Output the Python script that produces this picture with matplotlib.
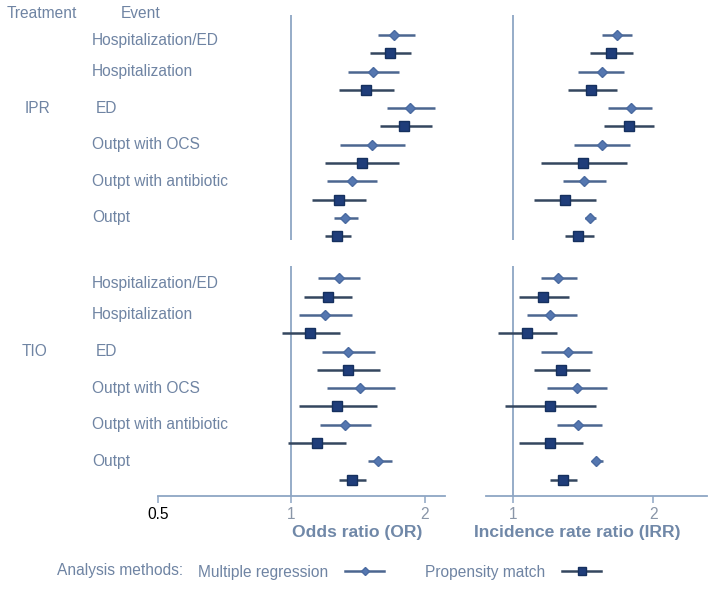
import matplotlib
matplotlib.use("Agg")
import matplotlib.pyplot as plt
import matplotlib.transforms as mtransforms
from matplotlib.lines import Line2D
import numpy as np

plt.rcParams['font.family'] = ['Liberation Sans', 'DejaVu Sans']

# data (point estimate, lower CI, upper CI)
treatments = ["IPR", "TIO"]
events = ["Hospitalization/ED", "Hospitalization", "ED",
          "Outpt with OCS", "Outpt with antibiotic", "Outpt"]

# odds ratio, multiple regression / propensity match
or_mr_ipr = [1.70, 1.53, 1.85, 1.52, 1.37, 1.32]
or_mr_ipr_lo = [1.57, 1.34, 1.64, 1.29, 1.20, 1.25]
or_mr_ipr_hi = [1.90, 1.75, 2.11, 1.80, 1.56, 1.41]
or_pm_ipr = [1.67, 1.47, 1.79, 1.44, 1.28, 1.27]
or_pm_ipr_lo = [1.50, 1.28, 1.58, 1.19, 1.11, 1.19]
or_pm_ipr_hi = [1.86, 1.70, 2.08, 1.75, 1.47, 1.36]

or_mr_tio = [1.28, 1.19, 1.34, 1.43, 1.32, 1.57]
or_mr_tio_lo = [1.15, 1.04, 1.17, 1.20, 1.16, 1.49]
or_mr_tio_hi = [1.43, 1.37, 1.54, 1.71, 1.51, 1.69]
or_pm_tio = [1.21, 1.10, 1.34, 1.27, 1.14, 1.37]
or_pm_tio_lo = [1.07, 0.95, 1.14, 1.04, 0.98, 1.28]
or_pm_tio_hi = [1.37, 1.29, 1.58, 1.56, 1.33, 1.47]

# incidence rate ratio
irr_mr_ipr = [1.67, 1.55, 1.79, 1.55, 1.42, 1.46]
irr_mr_ipr_lo = [1.55, 1.38, 1.60, 1.35, 1.28, 1.43]
irr_mr_ipr_hi = [1.80, 1.73, 1.99, 1.78, 1.58, 1.51]
irr_pm_ipr = [1.62, 1.47, 1.77, 1.41, 1.29, 1.38]
irr_pm_ipr_lo = [1.46, 1.31, 1.57, 1.15, 1.11, 1.29]
irr_pm_ipr_hi = [1.81, 1.67, 2.01, 1.76, 1.51, 1.49]

irr_mr_tio = [1.25, 1.20, 1.31, 1.37, 1.38, 1.51]
irr_mr_tio_lo = [1.15, 1.07, 1.15, 1.18, 1.24, 1.48]
irr_mr_tio_hi = [1.37, 1.37, 1.48, 1.59, 1.55, 1.56]
irr_pm_tio = [1.16, 1.07, 1.27, 1.20, 1.20, 1.28]
irr_pm_tio_lo = [1.03, 0.93, 1.11, 0.96, 1.03, 1.20]
irr_pm_tio_hi = [1.32, 1.24, 1.46, 1.51, 1.41, 1.37]

TXT = '#6f84a3'
AXC = '#8ea6c4'
MR_LINE = '#4c6690'
PM_LINE = '#34465f'
MR_MARK = '#5577b0'
PM_MARK = '#1f3d7a'
FS = 11.2

GROUP_GAP = 13.3
YLIM = (25.19, -1.366)

fig = plt.figure(figsize=(7.16, 5.89), dpi=100)
ax_or = fig.add_axes([0.2207, 0.158, 0.4008, 0.825])
ax_irr = fig.add_axes([0.6788, 0.158, 0.3087, 0.825])


def draw_panel(ax, groups, xlim, ticks, ticklabels):
    ax.set_xscale('log')
    for g, (mr, mr_lo, mr_hi, pm, pm_lo, pm_hi) in enumerate(groups):
        base = g * GROUP_GAP
        y_mr = base + 2 * np.arange(len(mr))
        y_pm = y_mr + 1
        ax.hlines(y_mr, mr_lo, mr_hi, color=MR_LINE, lw=1.8, zorder=2)
        ax.hlines(y_pm, pm_lo, pm_hi, color=PM_LINE, lw=1.8, zorder=2)
        ax.plot(mr, y_mr, 'D', ms=5.5, color=MR_MARK, mec='#4a6aa0', zorder=3)
        ax.plot(pm, y_pm, 's', ms=7.5, color=PM_MARK, mec='#15305e', zorder=3)
    ax.vlines(1, -1.1, 11.2, color=AXC, lw=1.3, zorder=1)
    ax.vlines(1, GROUP_GAP - 0.7, YLIM[0], color=AXC, lw=1.3, zorder=1)
    ax.set_ylim(*YLIM)
    ax.set_xlim(*xlim)
    ax.minorticks_off()
    ax.set_xticks(ticks)
    ax.set_xticklabels(ticklabels)
    ax.set_yticks([])
    for s in ['top', 'left', 'right']:
        ax.spines[s].set_visible(False)
    ax.spines['bottom'].set_color(AXC)
    ax.spines['bottom'].set_linewidth(1.3)
    ax.tick_params(axis='x', direction='out', length=5, width=1.1, color=AXC,
                   labelsize=FS, labelcolor='#8a96a8', pad=3)
    ax.patch.set_visible(False)


draw_panel(ax_or,
           [(or_mr_ipr, or_mr_ipr_lo, or_mr_ipr_hi, or_pm_ipr, or_pm_ipr_lo, or_pm_ipr_hi),
            (or_mr_tio, or_mr_tio_lo, or_mr_tio_hi, or_pm_tio, or_pm_tio_lo, or_pm_tio_hi)],
           (0.5, 2.22), [0.5, 1, 2], ["0.5", "1", "2"])
ax_or.get_xticklabels()[0].set_color('black')

draw_panel(ax_irr,
           [(irr_mr_ipr, irr_mr_ipr_lo, irr_mr_ipr_hi, irr_pm_ipr, irr_pm_ipr_lo, irr_pm_ipr_hi),
            (irr_mr_tio, irr_mr_tio_lo, irr_mr_tio_hi, irr_pm_tio, irr_pm_tio_lo, irr_pm_tio_hi)],
           (0.875, 2.61), [1, 2], ["1", "2"])

# row labels on the left
trans = mtransforms.blended_transform_factory(fig.transFigure, ax_or.transData)
for g, treat in enumerate(treatments):
    base = g * GROUP_GAP
    for i, ev in enumerate(events):
        yy = base + 2 * i + (0.3 if i == 0 else 0)
        xx = 96 / 716 if ev == "ED" else 92 / 716
        ax_or.text(xx, yy, ev, transform=trans, ha='left', va='center',
                   fontsize=FS, color=TXT, clip_on=False)
    ax_or.text(25 / 716 if g == 0 else 22 / 716, base + 4, treat, transform=trans,
               ha='left', va='center', fontsize=FS, color=TXT, clip_on=False)

fig.text(7 / 716, 1 - 13 / 589, "Treatment", ha='left', va='center', fontsize=FS, color=TXT)
fig.text(121 / 716, 1 - 13 / 589, "Event", ha='left', va='center', fontsize=FS, color=TXT)

fig.text(357 / 716, 1 - 533 / 589, "Odds ratio (OR)", ha='center', va='center',
         fontsize=12.6, fontweight='bold', color='#7088a8')
fig.text(577 / 716, 1 - 533 / 589, "Incidence rate ratio (IRR)", ha='center', va='center',
         fontsize=12.6, fontweight='bold', color='#7088a8')

# legend
fig.text(57 / 716, 1 - 570 / 589, "Analysis methods:", ha='left', va='center',
         fontsize=FS, color=TXT)
handles = [Line2D([], [], color=MR_LINE, lw=1.8, marker='D', ms=4.5, mfc=MR_MARK, mec='#4a6aa0'),
           Line2D([], [], color=PM_LINE, lw=1.8, marker='s', ms=6, mfc=PM_MARK, mec='#15305e')]
leg = fig.legend(handles, ["Multiple regression", "Propensity match"],
                 loc='center left', bbox_to_anchor=(198 / 716, 1 - 572 / 589),
                 ncol=2, frameon=False, markerfirst=False, fontsize=FS,
                 handlelength=2.5, handletextpad=1.1, columnspacing=2.6,
                 borderpad=0, borderaxespad=0)
for t in leg.get_texts():
    t.set_color(TXT)

fig.savefig("out.png", dpi=100)
